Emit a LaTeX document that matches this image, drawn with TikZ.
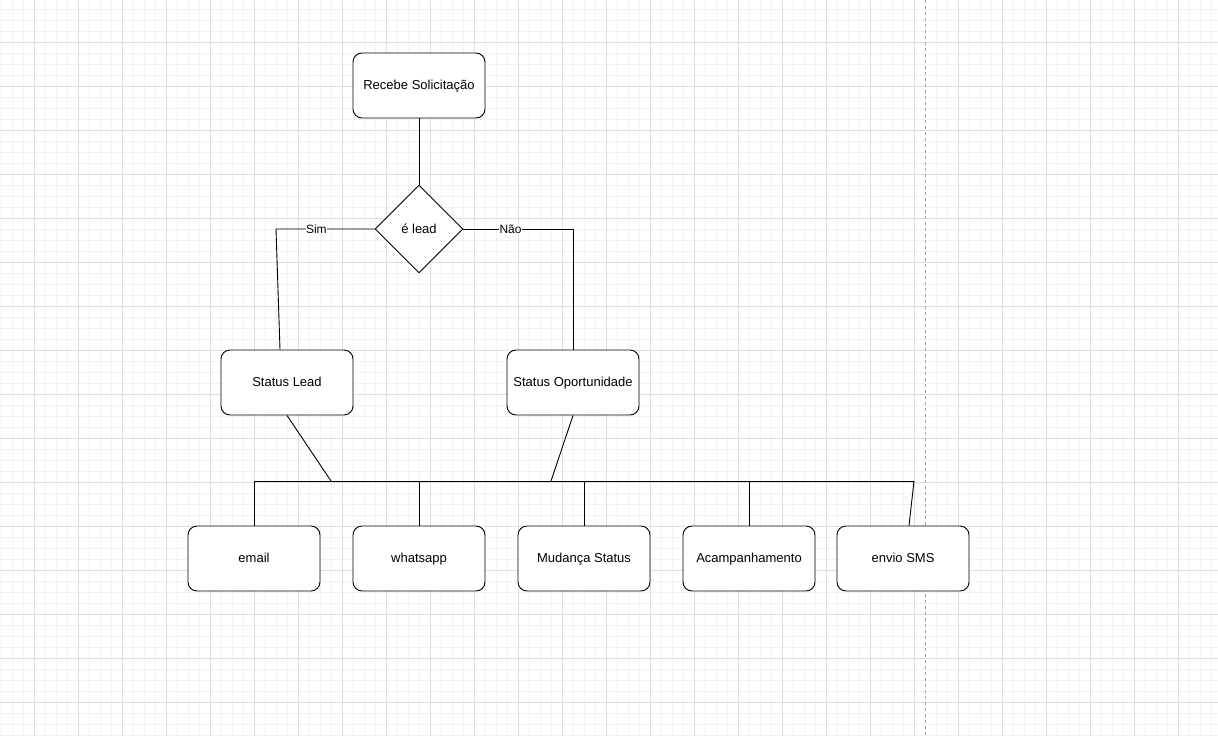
\documentclass[tikz,border=0pt]{standalone}
\usepackage{fontspec}
\setmainfont{Liberation Sans}
\usetikzlibrary{shapes.geometric}
\newcommand{\gridv}[2]{\draw[#2] (#1,0) -- (#1,736);}
\newcommand{\gridh}[2]{\draw[#2] (0,#1) -- (1218,#1);}
\tikzset{
  box/.style={draw=black, line width=0.9pt, rounded corners=9pt, fill=white,
    minimum width=132pt, minimum height=65pt, inner sep=0pt,
    text height=9.5pt, text depth=2.5pt,
    font=\fontsize{13}{15}\selectfont},
  decide/.style={draw=black, line width=0.9pt, diamond, aspect=1, fill=white,
    minimum size=88pt, inner sep=0pt, font=\fontsize{13}{15}\selectfont},
  conn/.style={draw=black, line width=0.9pt},
  lbl/.style={fill=white, inner sep=0.5pt, font=\fontsize{12}{14}\selectfont},
  minorgrid/.style={draw=black!5, line width=0.8pt},
  majorgrid/.style={draw=black!13, line width=0.8pt}
}
\begin{document}
\begin{tikzpicture}[x=1pt, y=-1pt]
    \useasboundingbox (0,0) rectangle (1218,736);
    \fill[white] (0,0) rectangle (1218,736);
    % grid
    \foreach \x in {1,12,...,1218} {\gridv{\x}{minorgrid}}
    \foreach \y in {9,20,...,736} {\gridh{\y}{minorgrid}}
    \foreach \x in {34,78,...,1218} {\gridv{\x}{majorgrid}}
    \foreach \y in {42,86,...,736} {\gridh{\y}{majorgrid}}
    \draw[black!35, dashed, line width=0.8pt] (925,0) -- (925,736);

    % top
    \node[box] (recebe) at (419,85.5) {Recebe Solicitação};
    \node[decide] (lead) at (419,229) {é lead};
    % status
    \node[box] (stlead) at (287,382.5) {Status Lead};
    \node[box] (stoport) at (573,382.5) {Status Oportunidade};
    % actions
    \node[box] (email) at (254,558.5) {email};
    \node[box] (whats) at (419,558.5) {whatsapp};
    \node[box] (mudanca) at (584,558.5) {Mudança Status};
    \node[box] (acomp) at (749,558.5) {Acampanhamento};
    \node[box] (sms) at (903,558.5) {envio SMS};

    \coordinate (simbend) at (276,229);
    \coordinate (naobend) at (573,229);
    \coordinate (busL) at (254,481);
    \coordinate (busR) at (914,481);
    \coordinate (leadjoin) at (331,481);
    \coordinate (oportjoin) at (551,481);

    \draw[conn] (recebe.south) -- (lead.north);
    \draw[conn] (lead.west) -- node[lbl, pos=0.59] {Sim} (simbend) -- ([xshift=-7pt]stlead.north);
    \draw[conn] (lead.east) -- node[lbl, pos=0.43] {Não} (naobend) -- (stoport.north);
    \draw[conn] (stlead.south) -- (leadjoin);
    \draw[conn] (stoport.south) -- (oportjoin);
    % bus
    \draw[conn] (busL) -- (busR);
    \draw[conn] (busL) -- (email.north);
    \draw[conn] (whats.north |- busL) -- (whats.north);
    \draw[conn] (mudanca.north |- busL) -- (mudanca.north);
    \draw[conn] (acomp.north |- busL) -- (acomp.north);
    \draw[conn] (busR) -- ([xshift=6pt]sms.north);
\end{tikzpicture}
\end{document}
